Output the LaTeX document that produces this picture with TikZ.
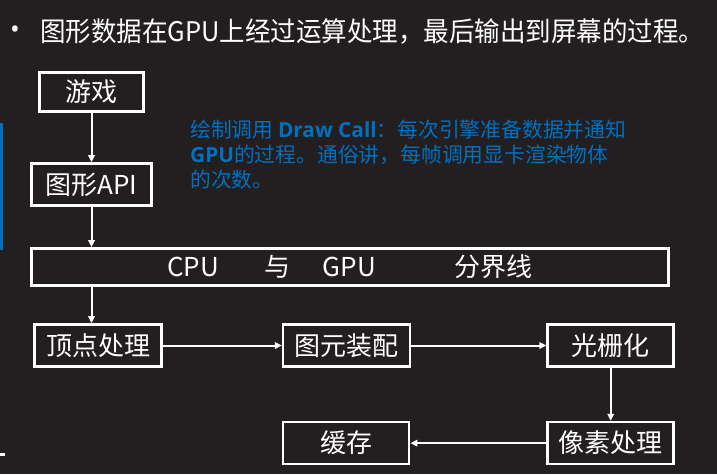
\documentclass[tikz,border=0pt]{standalone}
\usepackage{fontspec}
\usepackage{graphicx}
\setmainfont{Noto Sans CJK SC}
\newfontfamily\segoe{Open Sans}
\usetikzlibrary{positioning,arrows.meta}
\definecolor{slidebg}{RGB}{35,31,32}
\definecolor{noteblue}{RGB}{0,112,192}

\begin{document}
\begin{tikzpicture}[
    x=1pt, y=-1pt,
    >={Triangle[length=7pt,width=6.5pt]},
    stage/.style={
        draw=white,
        fill=slidebg,
        text=white,
        line width=2.6pt,
        inner sep=0pt,
        minimum height=42pt,
        font=\fontsize{26}{30}\selectfont
    },
    flow/.style={->, draw=white, fill=white, line width=2pt},
    note/.style={text=noteblue, align=left, inner sep=0pt,
                 font=\fontsize{20.8}{25}\selectfont}
]

\fill[slidebg] (0,0) rectangle (717,474);
\useasboundingbox (0,0) rectangle (717,474);

% slide title
\node[text=white, inner sep=0pt, font=\segoe\fontsize{26}{30}\selectfont] (dot) at (15,32) {•};
\node[text=white, anchor=west, inner sep=0pt, font=\fontsize{27}{32}\selectfont]
    (title) at (40,32)
    {\resizebox{664pt}{\height}{图形数据在GPU上经过运算处理，最后输出到屏幕的过程。}};

% CPU side
\node[stage, minimum width=104pt, minimum height=39pt] (game) at (91.5,92) {游戏};
\node[stage, minimum width=120pt] (api) at (91.5,184.5) {图形API};
\node[stage, minimum width=637pt, minimum height=37pt]
    (sep) at (350,267) {CPU\hspace{46pt}与\hspace{32pt}GPU\hspace{79pt}分界线};

% GPU side
\node[stage, minimum width=127pt] (vp) at (98,345.5) {顶点处理};
\node[stage, minimum width=127pt, right=119pt of vp] (tu) {图元装配};
\node[stage, minimum width=126pt, right=135pt of tu] (gs) {光栅化};
\node[stage, minimum width=126pt, below=53pt of gs] (xs) {像素处理};
\node[stage, minimum width=126pt, left=136pt of xs] (hc) {缓存};

\draw[flow] (game) -- (api);
\draw[flow] (api) -- (api.south |- sep.north);
\draw[flow] (api.south |- sep.south) -- (api.south |- vp.north);
\draw[flow] (vp) -- (tu);
\draw[flow] (tu) -- (gs);
\draw[flow] (gs) -- (xs);
\draw[flow] (xs) -- (hc);

% note on draw calls
\node[note, anchor=north west] (dc) at (190,120)
    {绘制调用 {\segoe\bfseries Draw Call}：每次引擎准备数据并通知\\
     {\segoe\bfseries GPU}的过程。通俗讲，每帧调用显卡渲染物体\\
     的次数。};

% slide edge marks
\fill[noteblue] (0,123) rectangle (3,250);
\fill[white] (0,453) rectangle (5,456);

\end{tikzpicture}
\end{document}
